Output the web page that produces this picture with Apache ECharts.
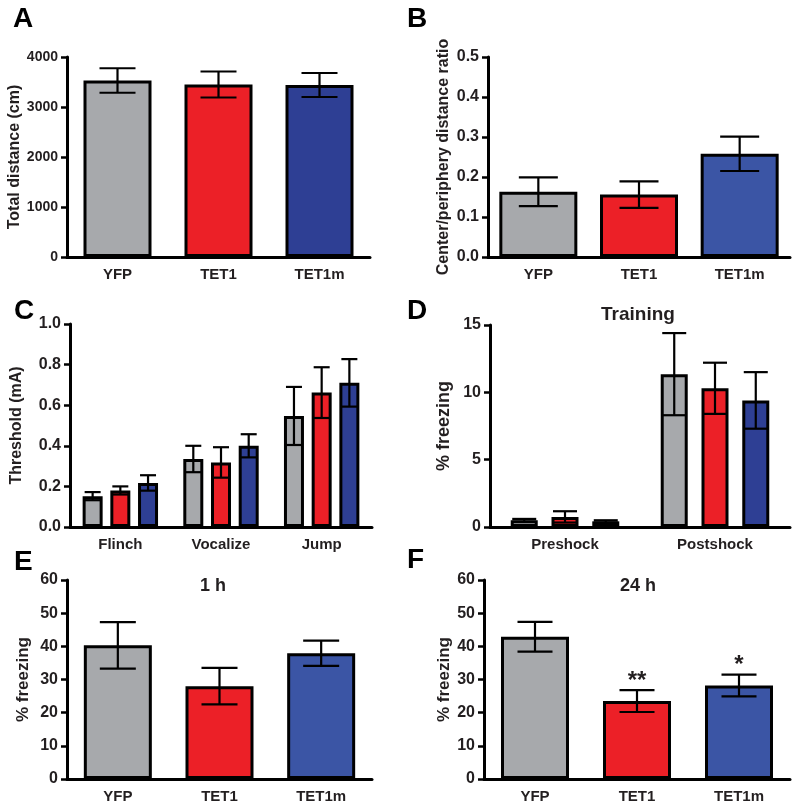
<!DOCTYPE html>
<html><head><meta charset="utf-8">
<script src="https://cdn.jsdelivr.net/npm/echarts@6/dist/echarts.min.js"></script>
<style>html,body{margin:0;padding:0;background:#fff}#c{width:800px;height:809px}</style>
</head><body><div id="c"></div>
<script>
// ---------- data ----------
const groups = ['YFP', 'TET1', 'TET1m'];
const distanceMean = [3530, 3450, 3440];
const distanceErr = [245, 260, 240];
const ratioMean = [0.163, 0.156, 0.258];
const ratioErr = [0.036, 0.033, 0.043];
const shockCats = ['Flinch', 'Vocalize', 'Jump'];
const shockYFP = [0.152, 0.335, 0.547];
const shockYFPErr = [0.020, 0.065, 0.143];
const shockTET1 = [0.180, 0.318, 0.662];
const shockTET1Err = [0.020, 0.075, 0.125];
const shockTET1m = [0.217, 0.400, 0.710];
const shockTET1mErr = [0.038, 0.057, 0.117];
const trainCats = ['Preshock', 'Postshock'];
const trainYFP = [0.50, 11.35];
const trainYFPErr = [0.10, 3.05];
const trainTET1 = [0.75, 10.3];
const trainTET1Err = [0.42, 1.9];
const trainTET1m = [0.42, 9.4];
const trainTET1mErr = [0.08, 2.1];
const h1Mean = [40.3, 28.0, 37.9];
const h1Err = [7.0, 5.5, 3.8];
const h24Mean = [42.9, 23.5, 28.2];
const h24Err = [4.5, 3.3, 3.3];
const h24Stars = ['', '**', '*'];

// ---------- styles ----------
const FONT = '"Liberation Sans", Arial, Helvetica, sans-serif';
const GRAY = '#a7a9ac', RED = '#ec2027', BLUE_D = '#2e3f94', BLUE_L = '#3b55a5';
const TXT = '#231f20';

const grids = [
  {left: 67, top: 57, width: 303, height: 200},
  {left: 488, top: 57, width: 302, height: 200},
  {left: 70, top: 324, width: 302, height: 203},
  {left: 490, top: 325, width: 300, height: 202},
  {left: 67, top: 580, width: 305, height: 199},
  {left: 484, top: 580, width: 306, height: 199}
];

function xAx(gi, cats) {
  return {
    type: 'category', gridIndex: gi, data: cats,
    axisLine: {lineStyle: {color: '#000', width: 3}},
    axisTick: {alignWithLabel: true, length: 6, lineStyle: {color: '#000', width: 2.5}},
    axisLabel: {color: TXT, fontWeight: 'bold', fontSize: 15, margin: 10, fontFamily: FONT},
    splitLine: {show: false}
  };
}
function yAx(gi, min, max, interval, name, nameGap, nameSize, dec, tickSize) {
  return {
    type: 'value', gridIndex: gi, min: min, max: max, interval: interval,
    name: name, nameLocation: 'middle', nameGap: nameGap,
    nameTextStyle: {color: TXT, fontWeight: 'bold', fontSize: nameSize, fontFamily: FONT},
    axisLine: {show: true, lineStyle: {color: '#000', width: 3}},
    axisTick: {show: true, length: 6, lineStyle: {color: '#000', width: 2.5}},
    axisLabel: {color: TXT, fontWeight: 'bold', fontSize: tickSize, margin: 9, fontFamily: FONT,
      formatter: v => dec ? v.toFixed(dec) : String(v)},
    splitLine: {show: false}
  };
}
function barSeries(gi, vals, colors, bw, gap) {
  const s = {
    type: 'bar', xAxisIndex: gi, yAxisIndex: gi, barWidth: bw, z: 2,
    itemStyle: {borderColor: '#000', borderWidth: 3},
    data: vals.map((v, i) => ({value: v, itemStyle: {color: Array.isArray(colors) ? colors[i] : colors}}))
  };
  if (gap != null) s.barGap = gap;
  return s;
}
function errSeries(gi, means, errs, capW, offsetPx) {
  return {
    type: 'custom', xAxisIndex: gi, yAxisIndex: gi, z: 10, silent: true,
    data: means.map((m, i) => [i, m, errs[i]]),
    renderItem: function (params, api) {
      const i = api.value(0), m = api.value(1), e = api.value(2);
      const t = api.coord([i, m + e]), b = api.coord([i, m - e]);
      const x = t[0] + offsetPx, h = capW / 2;
      const st = {stroke: '#000', lineWidth: 2.2};
      return {type: 'group', children: [
        {type: 'line', shape: {x1: x, y1: t[1], x2: x, y2: b[1]}, style: st},
        {type: 'line', shape: {x1: x - h, y1: t[1], x2: x + h, y2: t[1]}, style: st},
        {type: 'line', shape: {x1: x - h, y1: b[1], x2: x + h, y2: b[1]}, style: st}
      ]};
    }
  };
}
function starSeries(gi, means, errs, stars) {
  return {
    type: 'custom', xAxisIndex: gi, yAxisIndex: gi, z: 11, silent: true,
    data: means.map((m, i) => [i, m + errs[i]]),
    renderItem: function (params, api) {
      const p = api.coord([api.value(0), api.value(1)]);
      return {type: 'text', x: p[0], y: p[1] - 21,
        style: {text: stars[params.dataIndex], align: 'center', verticalAlign: 'top',
          font: 'bold 24px ' + FONT, fill: TXT}};
    }
  };
}

const cBW = 20, cGap = 0.385, dBW = 27, dGap = 0.51;
const cStep = cBW * (1 + cGap), dStep = dBW * (1 + dGap);
const series = [
  barSeries(0, distanceMean, [GRAY, RED, BLUE_D], 68),
  errSeries(0, distanceMean, distanceErr, 36, 0),
  barSeries(1, ratioMean, [GRAY, RED, BLUE_L], 78),
  errSeries(1, ratioMean, ratioErr, 39, 0),
  barSeries(2, shockYFP, GRAY, cBW, cGap * 100 + '%'),
  barSeries(2, shockTET1, RED, cBW, cGap * 100 + '%'),
  barSeries(2, shockTET1m, BLUE_D, cBW, cGap * 100 + '%'),
  errSeries(2, shockYFP, shockYFPErr, 16, -cStep),
  errSeries(2, shockTET1, shockTET1Err, 16, 0),
  errSeries(2, shockTET1m, shockTET1mErr, 16, cStep),
  barSeries(3, trainYFP, GRAY, dBW, dGap * 100 + '%'),
  barSeries(3, trainTET1, RED, dBW, dGap * 100 + '%'),
  barSeries(3, trainTET1m, BLUE_D, dBW, dGap * 100 + '%'),
  errSeries(3, trainYFP, trainYFPErr, 24, -dStep),
  errSeries(3, trainTET1, trainTET1Err, 24, 0),
  errSeries(3, trainTET1m, trainTET1mErr, 24, dStep),
  barSeries(4, h1Mean, [GRAY, RED, BLUE_L], 68),
  errSeries(4, h1Mean, h1Err, 36, 0),
  barSeries(5, h24Mean, [GRAY, RED, BLUE_L], 68),
  errSeries(5, h24Mean, h24Err, 35, 0),
  starSeries(5, h24Mean, h24Err, h24Stars)
];

function label(t, x, y, size, align) {
  return {type: 'text', x: x, y: y, z: 20,
    style: {text: t, font: 'bold ' + size + 'px ' + FONT, fill: align === 'center' ? TXT : '#000',
      align: align || 'left', verticalAlign: 'top'}};
}

const option = {
  animation: false,
  backgroundColor: '#fff',
  grid: grids,
  xAxis: [xAx(0, groups), xAx(1, groups), xAx(2, shockCats), xAx(3, trainCats), xAx(4, groups), xAx(5, groups)],
  yAxis: [
    yAx(0, 0, 4000, 1000, 'Total distance (cm)', 44, 16, 0, 14),
    yAx(1, 0, 0.5, 0.1, 'Center/periphery distance ratio', 36, 16, 1, 16),
    yAx(2, 0, 1.0, 0.2, 'Threshold (mA)', 45, 16, 1, 16),
    yAx(3, 0, 15, 5, '% freezing', 37, 18, 0, 16),
    yAx(4, 0, 60, 10, '% freezing', 35, 17, 0, 16),
    yAx(5, 0, 60, 10, '% freezing', 28, 17, 0, 16)
  ],
  series: series,
  graphic: [
    label('A', 13, 5, 28), label('B', 407, 5, 28),
    label('C', 14, 297, 28), label('D', 407, 297, 28),
    label('E', 14, 548, 28), label('F', 407, 546, 28),
    label('Training', 638, 305, 19, 'center'),
    label('1 h', 213, 577, 18, 'center'),
    label('24 h', 638, 577, 18, 'center')
  ]
};
const chart = echarts.init(document.getElementById('c'), null, {renderer: 'canvas'});
chart.setOption(option);
</script>
</body></html>
